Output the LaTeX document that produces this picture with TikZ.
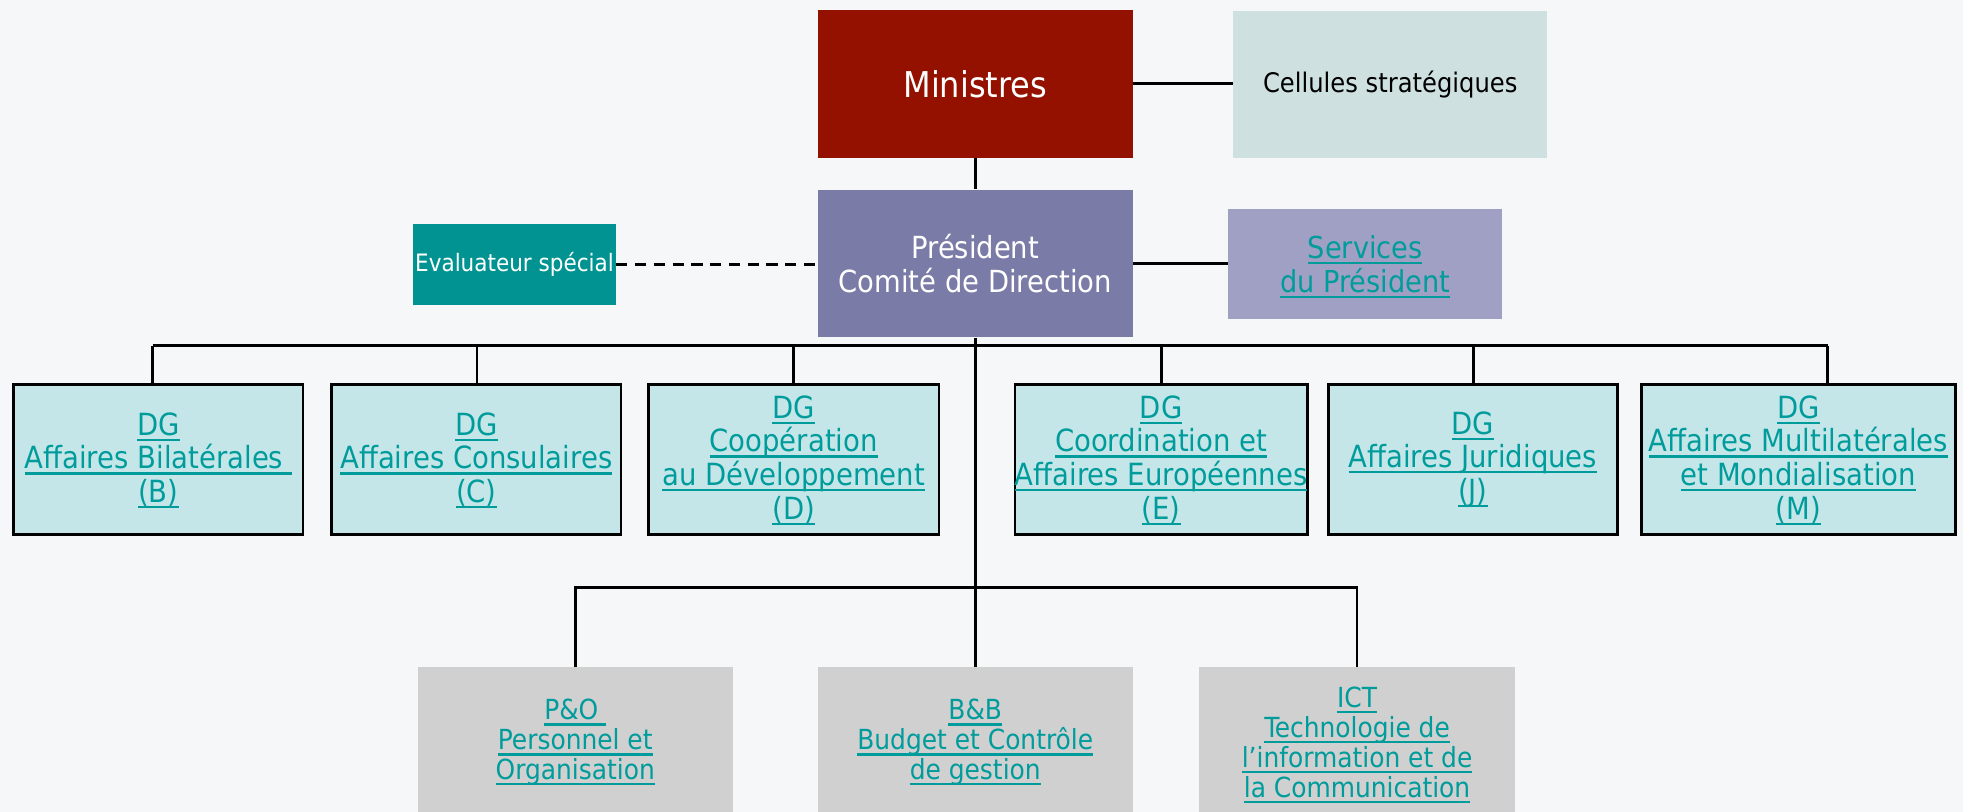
\documentclass[tikz,border=0pt]{standalone}
\usepackage{fontspec}
\setmainfont{DejaVu Sans Condensed}
\usetikzlibrary{calc}
\definecolor{bg}{HTML}{F5F7F9}
\definecolor{minred}{HTML}{941100}
\definecolor{prespurple}{HTML}{7B7BA8}
\definecolor{celfill}{HTML}{CFE0E0}
\definecolor{servfill}{HTML}{A0A0C4}
\definecolor{evalteal}{HTML}{009391}
\definecolor{dgfill}{HTML}{C5E6E8}
\definecolor{grayfill}{HTML}{D0D0D0}
\definecolor{linktxt}{HTML}{009C9C}
\newsavebox{\ulbox}
\newcommand{\lnk}[1]{\sbox{\ulbox}{#1}\rlap{\usebox{\ulbox}}\smash{\rule[-4.6bp]{\wd\ulbox}{1.8bp}}}
\tikzset{
  box/.style={inner sep=0pt, align=center},
  conn/.style={line width=2.2bp, black},
  dgbox/.style={box, fill=dgfill, draw=black, line width=2.2bp, minimum height=120bp,
     text=linktxt, font=\fontsize{24.5}{27}\selectfont,
     execute at begin node={\rule{0pt}{22bp}}},
  lowbox/.style={box, fill=grayfill, minimum height=120bp, minimum width=252bp,
     text=linktxt, font=\fontsize{22.2}{24}\selectfont,
     execute at begin node={\rule{0pt}{20.2bp}}},
}
\begin{document}
\begin{tikzpicture}[x=1bp, y=-1bp]
\fill[bg] (0,0) rectangle (1568,648.6);
\useasboundingbox (0,0) rectangle (1568,648.6);
\clip (0,0) rectangle (1568,648.6);

% top row
\node[box, fill=minred, minimum width=252bp, minimum height=118bp, text=white,
      font=\fontsize{28.5}{32}\selectfont] (min) at (779,67) {Ministres};
\node[box, fill=celfill, minimum width=251bp, minimum height=118bp, text=black,
      font=\fontsize{21.6}{25}\selectfont] (cel) at (1110.5,67.5) {Cellules stratégiques};

% second row
\node[box, fill=prespurple, minimum width=252bp, minimum height=118bp, text=white,
      font=\fontsize{24.4}{27}\selectfont] (pres) at (779,210.5) {Président\\Comité de Direction};
\node[box, fill=evalteal, minimum width=162bp, minimum height=65bp, text=white,
      font=\fontsize{19.2}{22}\selectfont] (eval) at (411,211.5) {Evaluateur spécial};
\node[box, fill=servfill, minimum width=219bp, minimum height=88bp, text=linktxt,
      font=\fontsize{24.2}{27}\selectfont] (serv) at (1090.5,211) {\lnk{Services}\\\lnk{du Président}};

% DG row
\node[dgbox, minimum width=231bp] (dgB) at (126.5,367) {\lnk{DG}\\\lnk{Affaires Bilatérales }\\\lnk{(B)}};
\node[dgbox, minimum width=231bp] (dgC) at (380.5,367) {\lnk{DG}\\\lnk{Affaires Consulaires}\\\lnk{(C)}};
\node[dgbox, minimum width=232bp] (dgD) at (634,367) {\lnk{DG}\\\lnk{Coopération}\\\lnk{au Développement}\\\lnk{(D)}};
\node[dgbox, minimum width=231bp] (dgE) at (927.5,367) {\lnk{DG}\\\lnk{Coordination et}\\\lnk{Affaires Européennes}\\\lnk{(E)}};
\node[dgbox, minimum width=231bp] (dgJ) at (1176.5,367) {\lnk{DG}\\\lnk{Affaires Juridiques}\\\lnk{(J)}};
\node[dgbox, minimum width=251bp] (dgM) at (1436.5,367) {\lnk{DG}\\\lnk{Affaires Multilatérales}\\\lnk{et Mondialisation}\\\lnk{(M)}};

% bottom row
\node[lowbox] (po) at (459.5,593) {\lnk{P\&O }\\\lnk{Personnel et}\\\lnk{Organisation}};
\node[lowbox] (bb) at (779,593) {\lnk{B\&B}\\\lnk{Budget et Contrôle}\\\lnk{de gestion}};
\node[lowbox] (ict) at (1084,593) {\lnk{ICT}\\\lnk{Technologie de}\\\lnk{l’information et de}\\\lnk{la Communication}};

% connectors
\draw[conn] (min.east) -- (min.east -| cel.west);
\draw[conn] (min.south) -- (pres.north);
\draw[conn] (pres.east) -- (pres.east -| serv.west);
\draw[conn, dash pattern=on 9bp off 6bp] (eval.east) -- (eval.east -| pres.west);

\coordinate (dB) at (122,276);
\coordinate (dC) at (381,276);
\coordinate (dD) at (634,276);
\coordinate (dE) at (928,276);
\coordinate (dJ) at (1177,276);
\coordinate (dM) at (1460,276);
\draw[conn] (dB) -- (dM);
\draw[conn] (dB) -- (dB |- dgB.north);
\draw[conn] (dC) -- (dC |- dgC.north);
\draw[conn] (dD) -- (dD |- dgD.north);
\draw[conn] (dE) -- (dE |- dgE.north);
\draw[conn] (dJ) -- (dJ |- dgJ.north);
\draw[conn] (dM) -- (dM |- dgM.north);

\coordinate (lbus) at (779,469);
\draw[conn] (pres.south) -- (bb.north);
\draw[conn] (po.north) -- (po.north |- lbus) -- (ict.north |- lbus) -- (ict.north);
\end{tikzpicture}
\end{document}
